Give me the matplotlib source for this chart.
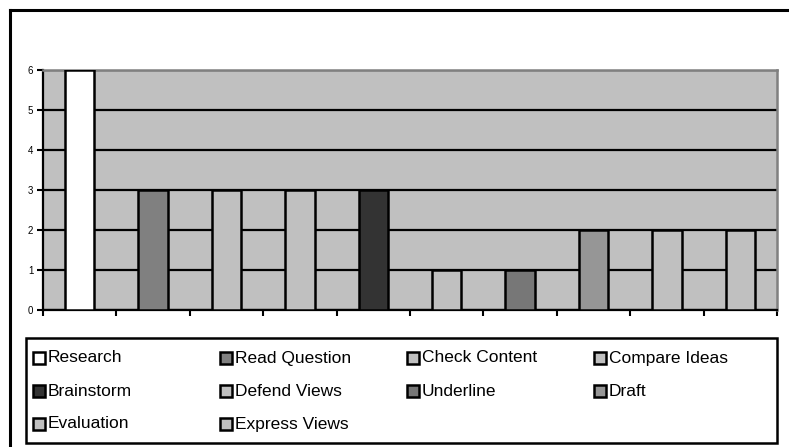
import matplotlib
matplotlib.use("Agg")
import matplotlib.pyplot as plt
from matplotlib.patches import Rectangle
from matplotlib.lines import Line2D
import numpy as np

plt.rcParams['font.family'] = ['Liberation Sans', 'DejaVu Sans']

categories = ["Research", "Read Question", "Check Content", "Compare Ideas",
              "Brainstorm", "Defend Views", "Underline", "Draft",
              "Evaluation", "Express Views"]
values = [6, 3, 3, 3, 3, 1, 1, 2, 2, 2]
colors = ["#ffffff", "#808080", "#c0c0c0", "#c0c0c0", "#333333",
          "#c0c0c0", "#777777", "#969696", "#c0c0c0", "#c0c0c0"]
yticks = [0, 1, 2, 3, 4, 5, 6]

W, H = 789, 447
fig = plt.figure(figsize=(W / 100, H / 100), dpi=100)
fig.patch.set_facecolor("white")


def fx(px):
    return px / W


def fy(py):
    return 1 - py / H


ax = fig.add_axes([fx(43), fy(310), fx(777) - fx(43), fy(70) - fy(310)])
ax.set_facecolor("#c0c0c0")
x = np.arange(len(categories))
ax.bar(x, values, width=0.4, color=colors, edgecolor="black", linewidth=1.8, zorder=3)
ax.set_xlim(-0.5, len(categories) - 0.5)
ax.set_ylim(0, 6)
ax.set_yticks(yticks)
ax.set_yticklabels([str(t) for t in yticks], fontsize=7)
ax.set_xticks(np.arange(len(categories) + 1) - 0.5)
ax.set_xticklabels([])
ax.tick_params(axis="both", direction="out", length=4, width=1.5, color="black", pad=3)
ax.yaxis.grid(True, color="black", linewidth=1.6)
ax.set_axisbelow(True)
for s in ["left", "bottom"]:
    ax.spines[s].set_color("black")
    ax.spines[s].set_linewidth(1.6)
for s in ["top", "right"]:
    ax.spines[s].set_color("#808080")
    ax.spines[s].set_linewidth(1.8)

# outer frame (top and left edges visible)
fig.add_artist(Line2D([fx(10), fx(10)], [fy(10), fy(447)], color="black", lw=2.2,
                      transform=fig.transFigure))
fig.add_artist(Line2D([fx(10), fx(789)], [fy(10), fy(10)], color="black", lw=2.2,
                      transform=fig.transFigure))

# legend box
fig.add_artist(Rectangle((fx(26), fy(443)), fx(777) - fx(26), fy(338) - fy(443),
                         transform=fig.transFigure, facecolor="white",
                         edgecolor="black", lw=1.8))
col_x = [33, 220, 407, 594]
row_y = [358, 391, 424]
for i, (lab, c) in enumerate(zip(categories, colors)):
    r, k = divmod(i, 4)
    sx, sy = col_x[k], row_y[r]
    fig.add_artist(Rectangle((fx(sx), fy(sy + 6)), fx(12), fy(0) - fy(12),
                             transform=fig.transFigure, facecolor=c,
                             edgecolor="black", lw=1.8))
    fig.text(fx(sx + 15), fy(sy), lab, fontsize=12.5, va="center", ha="left",
             color="black")

fig.savefig("out.png", dpi=100)
